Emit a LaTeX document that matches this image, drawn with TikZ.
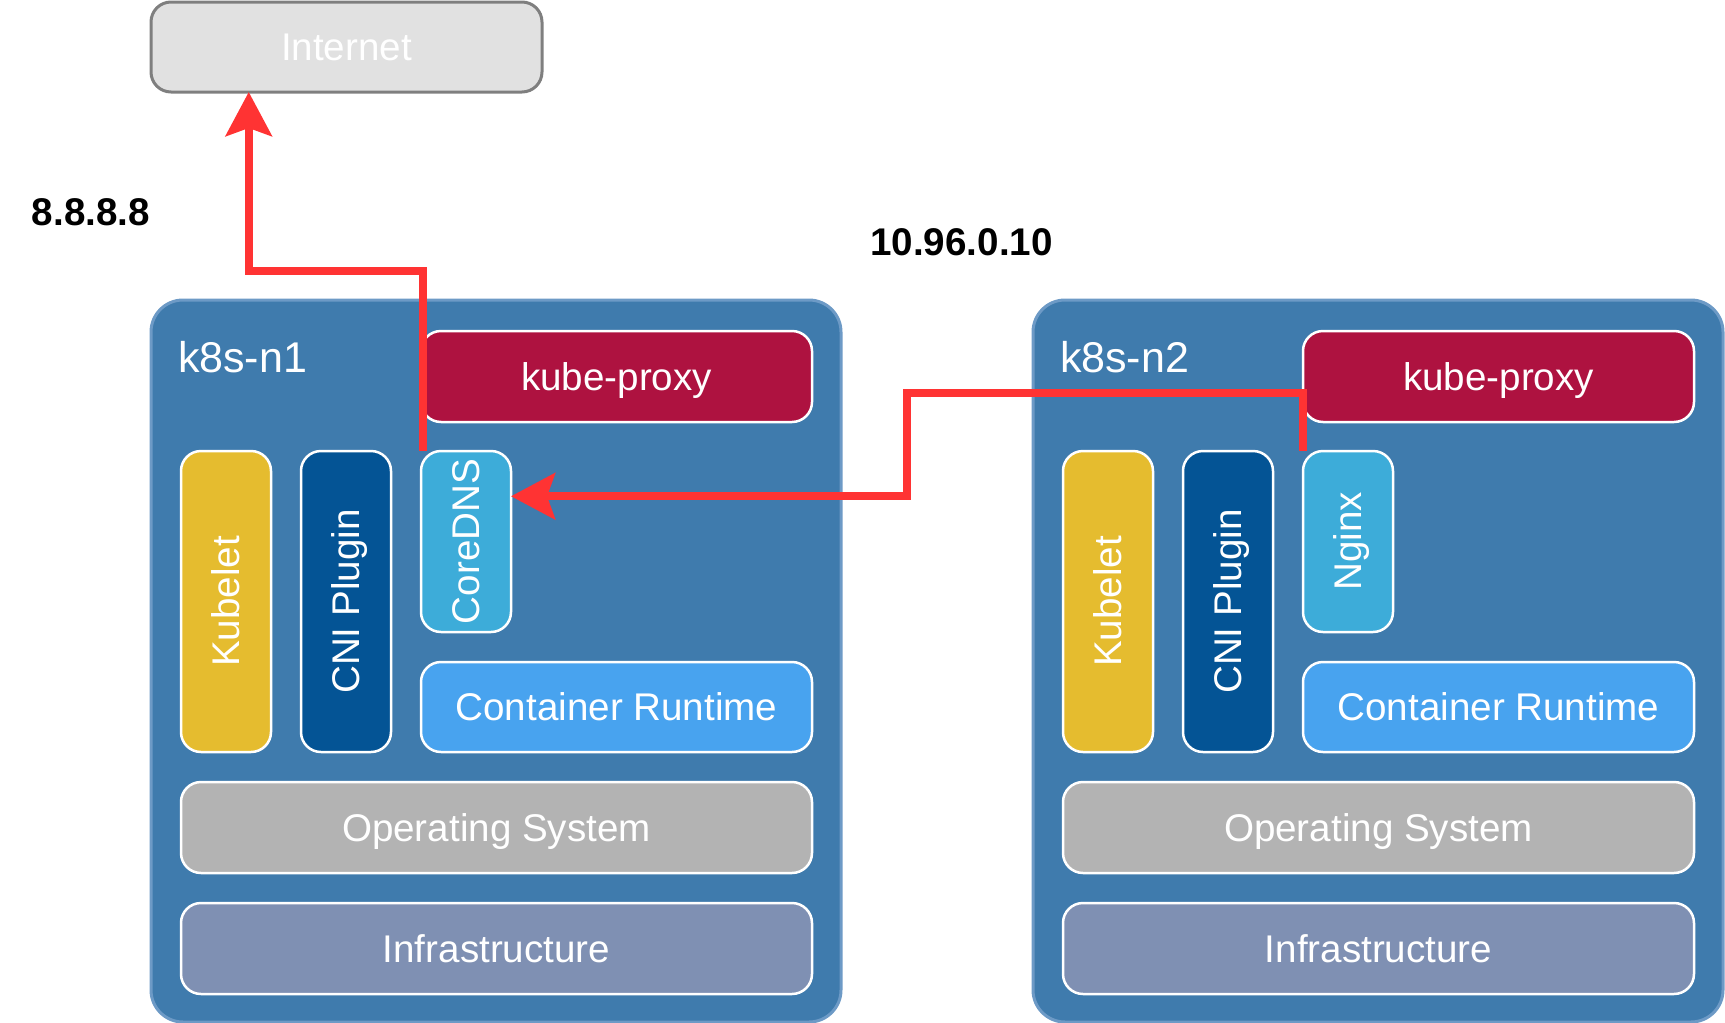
\documentclass[tikz,border=0pt]{standalone}
\usepackage{fontspec}
\setmainfont{Liberation Sans}
\usepackage{xcolor}
\usepackage{graphicx}
\usepackage{tikz}
\usetikzlibrary{positioning}
\usetikzlibrary{calc,arrows.meta}

\definecolor{hostblue}{HTML}{3F7BAD}
\definecolor{hostedge}{HTML}{6D9AC6}
\definecolor{proxyred}{HTML}{AE1240}
\definecolor{kubeletyellow}{HTML}{E5BC2F}
\definecolor{cninavy}{HTML}{045495}
\definecolor{podcyan}{HTML}{3DACD9}
\definecolor{runtimeblue}{HTML}{48A3EF}
\definecolor{osgrey}{HTML}{B3B3B3}
\definecolor{infraslate}{HTML}{7F90B3}
\definecolor{netgrey}{HTML}{E1E1E1}
\definecolor{netedge}{HTML}{7F7F7F}
\definecolor{flowred}{HTML}{FF3333}

\newcommand{\sidelabel}[1]{\rotatebox{90}{\raisebox{0pt}[0.716em][0pt]{#1}}}

\begin{document}
\begin{tikzpicture}[node distance=15pt,
    every node/.style={inner sep=0pt, outer sep=0pt},
    host/.style={draw=hostedge, line width=1.5pt, fill=hostblue, rounded corners=16pt,
      minimum width=345pt, minimum height=361pt},
    part/.style={draw=white, line width=1.25pt, rounded corners=10pt, text=white,
      font=\fontsize{19.3pt}{23pt}\selectfont},
    wide/.style={part, minimum width=195.5pt, minimum height=45.5pt,
      text height=13.8pt, text depth=0pt},
    tall/.style={part, minimum width=45pt, minimum height=#1},
    hostname/.style={anchor=base west, text=white, font=\fontsize{21.5pt}{25pt}\selectfont},
    addr/.style={font=\fontsize{19.3pt}{23pt}\selectfont\bfseries,
      text height=13.8pt, text depth=0pt},
    flow/.style={draw=flowred, line width=4pt, -{Stealth[length=22pt, width=23pt, inset=4pt]}}]
    \useasboundingbox (0,0) rectangle (862.5pt,-511.5pt);

    % Nodes
    \node [wide, fill=netgrey, draw=netedge, line width=1.5pt, minimum height=45pt,
      anchor=north west] (internet) at (75.5pt,-1pt) {Internet};

    \node [host, anchor=north west] (n1) at (75.5pt,-150pt) {};
    \node [host, right=96pt of n1] (n2) {};

    % k8s-n1
    \node [hostname] (name1) at ([shift={(13.5pt,-36pt)}]n1.north west) {k8s-n1};
    \node [wide, fill=proxyred, anchor=north west] (proxy1) at ([shift={(135pt,-15.5pt)}]n1.north west) {kube-proxy};
    \node [tall=150.5pt, fill=kubeletyellow, anchor=north west] (kubelet1) at ([shift={(15pt,-75.5pt)}]n1.north west) {\sidelabel{Kubelet}};
    \node [tall=150.5pt, fill=cninavy, right=of kubelet1] (cni1) {\sidelabel{CNI Plugin}};
    \node [tall=90.5pt, fill=podcyan, right=of cni1.north east, anchor=north west] (coredns1) {\sidelabel{CoreDNS}};
    \node [wide, fill=runtimeblue, minimum height=45pt, below=of coredns1.south west, anchor=north west] (runtime1) {Container Runtime};
    \node [wide, fill=osgrey, minimum width=315.5pt, below=of kubelet1.south west, anchor=north west] (os1) {Operating System};
    \node [wide, fill=infraslate, minimum width=315.5pt, below=of os1.south west, anchor=north west] (infra1) {Infrastructure};

    % k8s-n2
    \node [hostname] (name2) at ([shift={(13.5pt,-36pt)}]n2.north west) {k8s-n2};
    \node [wide, fill=proxyred, anchor=north west] (proxy2) at ([shift={(135pt,-15.5pt)}]n2.north west) {kube-proxy};
    \node [tall=150.5pt, fill=kubeletyellow, anchor=north west] (kubelet2) at ([shift={(15pt,-75.5pt)}]n2.north west) {\sidelabel{Kubelet}};
    \node [tall=150.5pt, fill=cninavy, right=of kubelet2] (cni2) {\sidelabel{CNI Plugin}};
    \node [tall=90.5pt, fill=podcyan, right=of cni2.north east, anchor=north west] (nginx2) {\sidelabel{Nginx}};
    \node [wide, fill=runtimeblue, minimum height=45pt, below=of nginx2.south west, anchor=north west] (runtime2) {Container Runtime};
    \node [wide, fill=osgrey, minimum width=315.5pt, below=of kubelet2.south west, anchor=north west] (os2) {Operating System};
    \node [wide, fill=infraslate, minimum width=315.5pt, below=of os2.south west, anchor=north west] (infra2) {Infrastructure};

    % Addresses
    \node [addr] (upstream) at (45.5pt,-105.75pt) {8.8.8.8};
    \node [addr] (clusterip) at (480.75pt,-120.75pt) {10.96.0.10};

    % Arrows
    \coordinate (inetport) at ($(internet.south west)!0.25!(internet.south east)$);
    \coordinate (dnsport) at ($(coredns1.north east)!0.25!(coredns1.south east)$);
    \draw [flow] ([xshift=1pt]coredns1.north west) -- ++(0,90pt) -| (inetport);
    \draw [flow] (nginx2.north west) -- ++(0,29pt) -- ++(-198pt,0) |- (dnsport);
\end{tikzpicture}
\end{document}
